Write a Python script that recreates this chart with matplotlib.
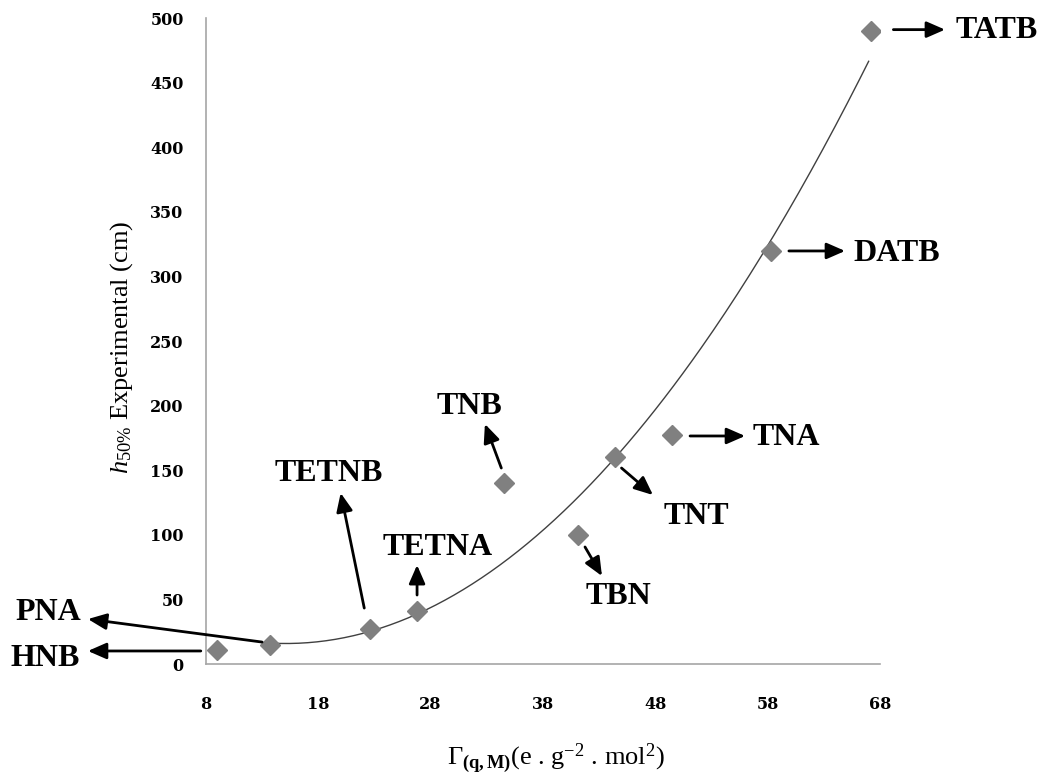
import numpy as np
import matplotlib
matplotlib.use("Agg")
import matplotlib.pyplot as plt

plt.rcParams['mathtext.fontset'] = 'custom'
plt.rcParams['mathtext.rm'] = 'Liberation Serif'
plt.rcParams['mathtext.it'] = 'Liberation Serif:italic'
plt.rcParams['mathtext.bf'] = 'Liberation Serif:bold'

# compounds, gamma values and measured h50%
names = ['HNB', 'PNA', 'TETNB', 'TETNA', 'TNB', 'TBN', 'TNT', 'TNA', 'DATB', 'TATB']
gamma = [9.0, 13.7, 22.6, 26.8, 34.5, 41.1, 44.4, 49.5, 58.3, 67.2]
h50 = [11, 15, 27, 41, 140, 100, 160, 177, 320, 490]

# arrow tail, arrow head, label centre (data units) per compound
arrow_tail = [(7.55, 10.1), (13.0, 17.0), (22.1, 43.3), (26.8, 53.4), (34.3, 151.7),
              (41.75, 90.6), (45.0, 151.7), (51.1, 176.5), (59.9, 319.7), (69.2, 491.0)]
arrow_head = [(-2.5, 10.1), (-2.5, 34.8), (20.0, 132.4), (26.8, 76.6), (32.84, 185.8),
              (43.26, 68.1), (47.8, 130.8), (56.0, 176.5), (64.9, 319.7), (73.8, 491.0)]
label_pos = [(-6.3, 4.5), (-6.0, 39.5), (18.9, 147.8), (28.6, 89.8), (31.5, 199.7),
             (44.7, 51.9), (51.7, 113.8), (59.7, 175.0), (69.5, 318.0), (78.4, 490.7)]

xticks = [8, 18, 28, 38, 48, 58, 68]
yticks = list(range(0, 501, 50))

fig = plt.figure(figsize=(10.45, 7.76), dpi=100)
ax = fig.add_axes([0.197, 0.1443, 0.645, 0.8325])

# second order trendline over all points
coef = np.polyfit(gamma, h50, 2)
xs = np.linspace(13.0, 67.0, 200)
ax.plot(xs, np.polyval(coef, xs), color='#404040', lw=1.0, zorder=2)

ax.plot(gamma, h50, linestyle='none', marker='D', ms=10, color='#808080',
        markeredgecolor='#808080', zorder=3)

for name, t, hd, lp in zip(names, arrow_tail, arrow_head, label_pos):
    ax.annotate('', xy=hd, xytext=t, annotation_clip=False,
                arrowprops=dict(arrowstyle='-|>,head_length=0.8,head_width=0.35',
                                lw=2, color='black', shrinkA=0, shrinkB=0,
                                mutation_scale=14))
    ax.text(lp[0], lp[1], name, ha='center', va='center', fontsize=23,
            fontweight='bold', family='Liberation Serif', clip_on=False)

ax.set_xlim(8, 68)
ax.set_ylim(0, 500)
ax.set_xticks(xticks)
ax.set_yticks(yticks)
for lab in ax.get_xticklabels() + ax.get_yticklabels():
    lab.set_fontfamily('DejaVu Serif')
    lab.set_fontweight('bold')
    lab.set_fontsize(11.5)
ax.tick_params(axis='x', length=0, pad=23)
ax.tick_params(axis='y', length=0, pad=16)

for side in ['top', 'right']:
    ax.spines[side].set_visible(False)
for side in ['left', 'bottom']:
    ax.spines[side].set_color('#a6a6a6')
    ax.spines[side].set_linewidth(1.2)

ax.set_xlabel(r'$\Gamma_{\mathbf{(q,M)}}$(e . g$^{-2}$ . mol$^{2}$)',
              fontsize=19, family='Liberation Serif')
ax.xaxis.set_label_coords(0.519, -0.12)
ax.set_ylabel(r'$h_{\mathit{50\%}}$ Experimental (cm)',
              fontsize=19, family='Liberation Serif')
ax.yaxis.set_label_coords(-0.105, 0.49)

fig.savefig('out.png', dpi=100)
